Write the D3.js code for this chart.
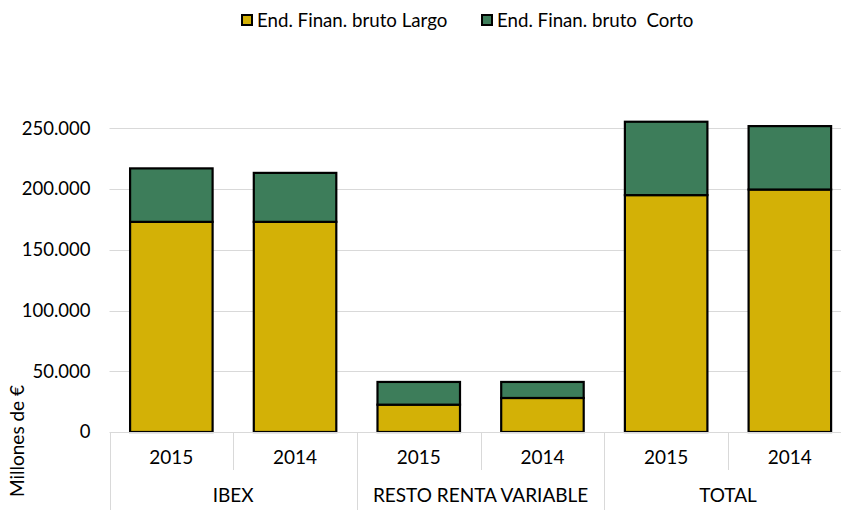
<!DOCTYPE html>
<html><head><meta charset="utf-8">
<script src="https://cdn.jsdelivr.net/npm/d3@7"></script>
<style>body{margin:0;background:#fff;} svg{display:block;font-family:Lato, "Open Sans", sans-serif;}</style>
</head><body>
<svg id="c" width="841" height="510"></svg>
<script>
const groups = ["IBEX", "RESTO RENTA VARIABLE", "TOTAL"];
const years = ["2015", "2014"];
const largo = [173000, 173000, 22500, 28000, 195000, 199600];
const corto = [44000, 40300, 18700, 13200, 60400, 52200];
const seriesNames = ["End. Finan. bruto Largo", "End. Finan. bruto  Corto"];
const seriesColors = ["#D3B106", "#3D7D5A"];
const yTicks = [0, 50000, 100000, 150000, 200000, 250000];

const svg = d3.select("#c");
const left = 109.5, slotW = 123.7;
const slots = [];
groups.forEach((g, gi) => years.forEach((yr, yi) => slots.push({g, yr, key: g + "|" + yr, i: gi * 2 + yi})));
const x = d3.scaleBand().domain(slots.map(s => s.key)).range([left, left + slotW * 6]).paddingInner(0).paddingOuter(0);
const y = d3.scaleLinear().domain([0, 250000]).range([432, 128.3]);
const loc = d3.formatLocale({decimal: ",", thousands: ".", grouping: [3], currency: ["", "€"]});
const fmt = loc.format(",.0f");

// gridlines
svg.append("g").selectAll("line").data(yTicks.slice(1)).join("line")
  .attr("x1", left).attr("x2", 841).attr("y1", d => Math.round(y(d)) + 0.5).attr("y2", d => Math.round(y(d)) + 0.5)
  .attr("stroke", "#d9d9d9").attr("stroke-width", 1);

// y axis labels
const yAxis = d3.axisLeft(y).tickValues(yTicks).tickFormat(fmt).tickSize(0).tickPadding(19);
const ya = svg.append("g").attr("transform", `translate(${left},0)`).call(yAxis);
ya.select(".domain").remove();
ya.selectAll("text").attr("font-size", 18.5).attr("fill", "#000").attr("font-family", "Lato, sans-serif");

// stacked data
const data = slots.map((s, i) => ({key: s.key, largo: largo[i], corto: corto[i]}));
const stack = d3.stack().keys(["largo", "corto"])(data);
const bw = slotW * 0.667;
svg.append("g").selectAll("g").data(stack).join("g")
  .attr("fill", (d, i) => seriesColors[i])
  .selectAll("rect").data(d => d).join("rect")
  .attr("x", d => x(d.data.key) + (slotW - bw) / 2)
  .attr("width", bw)
  .attr("y", d => y(d[1]))
  .attr("height", d => y(d[0]) - y(d[1]))
  .attr("stroke", "#000").attr("stroke-width", 2.2);

// x axis zero line
svg.append("line").attr("x1", left).attr("x2", 841).attr("y1", 432.5).attr("y2", 432.5).attr("stroke", "#d9d9d9");
// separators
const sep = svg.append("g").attr("stroke", "#d9d9d9").attr("stroke-width", 1);
for (let i = 0; i <= 6; i++) {
  const xx = Math.round(left + i * slotW) + 0.5;
  const long = i % 2 === 0;
  sep.append("line").attr("x1", xx).attr("x2", xx).attr("y1", 432).attr("y2", long ? 510 : 470);
}
// year labels
svg.append("g").selectAll("text").data(slots).join("text")
  .attr("x", d => x(d.key) + slotW / 2).attr("y", 464)
  .attr("text-anchor", "middle").attr("font-size", 19).text(d => d.yr);
// group labels
svg.append("g").selectAll("text").data(groups).join("text")
  .attr("x", (d, i) => left + slotW * (2 * i + 1)).attr("y", 502)
  .attr("text-anchor", "middle").attr("font-size", 19).text(d => d);

// y title
svg.append("text").attr("transform", "translate(24,441) rotate(-90)")
  .attr("text-anchor", "middle").attr("font-size", 19).text("Millones de €");

// legend
const legX = [242, 482];
const lg = svg.append("g").selectAll("g").data(seriesNames).join("g")
  .attr("transform", (d, i) => `translate(${legX[i]},20)`);
lg.append("rect").attr("x", 0).attr("y", -5).attr("width", 10).attr("height", 10)
  .attr("fill", (d, i) => seriesColors[i]).attr("stroke", "#000").attr("stroke-width", 2);
lg.append("text").attr("x", 15).attr("y", 6.5).attr("font-size", 18.7).style("white-space", "pre").text(d => d);
</script>
</body></html>
